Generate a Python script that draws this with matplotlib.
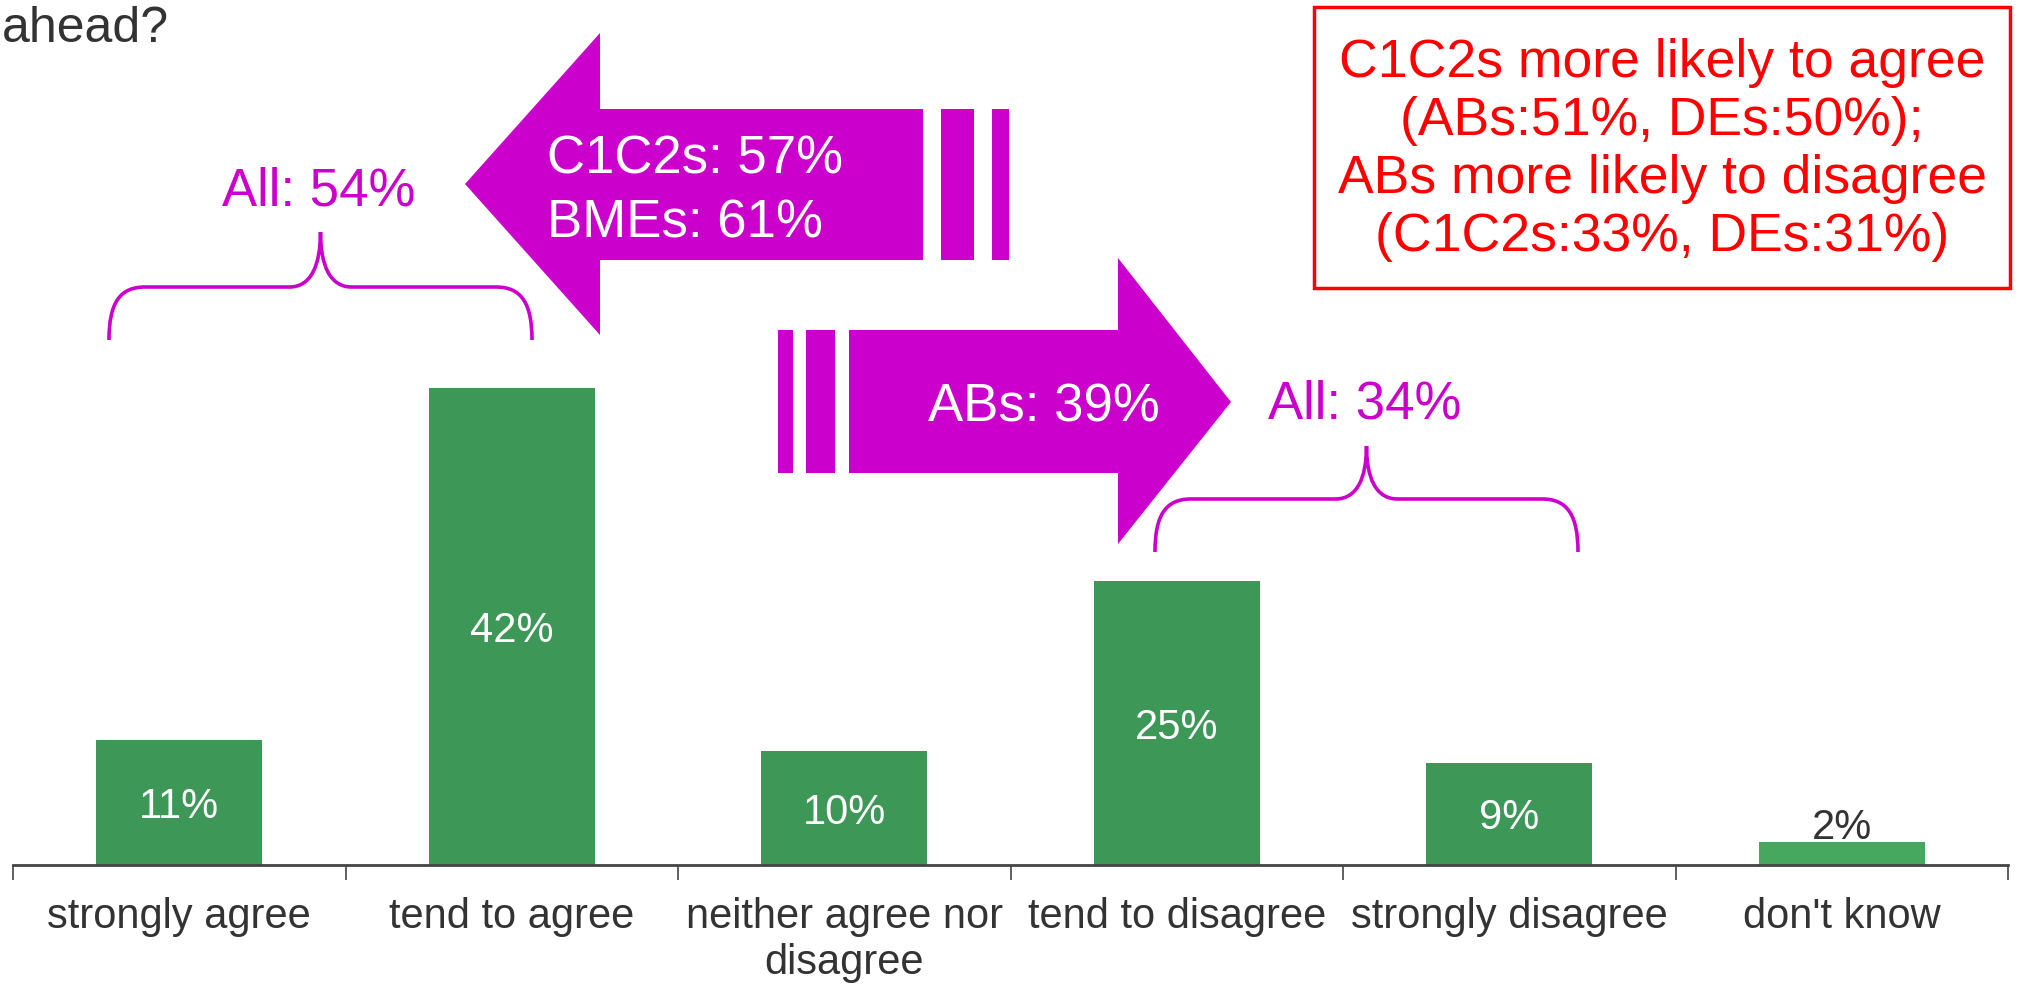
import matplotlib.pyplot as plt
from matplotlib.patches import Polygon, Rectangle, PathPatch
from matplotlib.path import Path

plt.rcParams['font.family'] = ['Liberation Sans', 'DejaVu Sans']

# data
categories = ['strongly agree', 'tend to agree', 'neither agree nor\ndisagree',
              'tend to disagree', 'strongly disagree', "don't know"]
values = [11, 42, 10, 25, 9, 2]
bar_colors = ['#3d9857'] * 5 + ['#45a85e']
label_colors = ['white'] * 5 + ['#333333']

W, H = 2018, 986
MAG = '#cc00cc'
RED = '#ff0000'
GREY = '#333333'


def px(x, y):
    # pixel (from top-left) -> figure fraction
    return (x / W, 1 - y / H)


fig = plt.figure(figsize=(W / 100, H / 100), dpi=100)
ax = fig.add_axes([13 / W, (H - 865) / H, 1995 / W, 865 / H])
ax.patch.set_alpha(0)

x = range(len(categories))
ax.bar(x, values, width=0.5, color=bar_colors)
ax.set_xlim(-0.5, 5.5)
ax.set_ylim(0, 76.2)

for i, v in enumerate(values):
    if v >= 5:
        ax.text(i, v / 2, f'{v}%', ha='center', va='center_baseline', color=label_colors[i], fontsize=30)
    else:
        ax.text(i, v + 0.25, f'{v}%', ha='center', va='baseline', color=label_colors[i], fontsize=30)

for s in ['top', 'right', 'left']:
    ax.spines[s].set_visible(False)
ax.spines['bottom'].set_color('#444444')
ax.spines['bottom'].set_linewidth(2)
ax.set_yticks([])
ax.set_xticks([i - 0.5 for i in range(len(categories) + 1)])
ax.set_xticklabels([])
ax.tick_params(axis='x', which='major', length=11, width=1.2, color='#444444')
ax.set_xticks(list(x), minor=True)
ax.set_xticklabels(categories, minor=True, fontsize=30, color=GREY)
ax.tick_params(axis='x', which='minor', length=0, pad=23)

# title fragment
fig.text(*px(2, 42), 'ahead?', ha='left', va='baseline', fontsize=36, color=GREY)

# left arrow
left_arrow = [(923, 109), (600, 109), (600, 33), (465, 184), (600, 335), (600, 260), (923, 260)]
fig.add_artist(Polygon([px(a, b) for a, b in left_arrow], closed=True, color=MAG,
                       transform=fig.transFigure, lw=0))
for x0, x1 in [(941, 974), (992, 1009)]:
    fig.add_artist(Rectangle(px(x0, 260), (x1 - x0) / W, (260 - 109) / H, color=MAG,
                             transform=fig.transFigure, lw=0))
fig.text(*px(547, 173), 'C1C2s: 57%', ha='left', va='baseline', fontsize=38, color='white')
fig.text(*px(547, 237), 'BMEs: 61%', ha='left', va='baseline', fontsize=38, color='white')

# right arrow
right_arrow = [(849, 330), (1118, 330), (1118, 258), (1231, 402), (1118, 544), (1118, 473), (849, 473)]
fig.add_artist(Polygon([px(a, b) for a, b in right_arrow], closed=True, color=MAG,
                       transform=fig.transFigure, lw=0))
for x0, x1 in [(778, 793), (806, 835)]:
    fig.add_artist(Rectangle(px(x0, 473), (x1 - x0) / W, (473 - 330) / H, color=MAG,
                             transform=fig.transFigure, lw=0))
fig.text(*px(928, 422), 'ABs: 39%', ha='left', va='baseline', fontsize=38, color='white')


def brace(x0, x1, yb, yf, yp):
    xm = (x0 + x1) / 2
    r = 36
    r2 = 31
    h = yb - yf
    h2 = yf - yp
    verts = [(x0, yb),
             (x0, yf + 0.3 * h), (x0 + 0.3 * r, yf), (x0 + r, yf),
             (xm - r2, yf),
             (xm - 0.3 * r2, yf), (xm, yf - 0.4 * h2), (xm, yp),
             (xm, yf - 0.4 * h2), (xm + 0.3 * r2, yf), (xm + r2, yf),
             (x1 - r, yf),
             (x1 - 0.3 * r, yf), (x1, yf + 0.3 * h), (x1, yb)]
    codes = [Path.MOVETO, Path.CURVE4, Path.CURVE4, Path.CURVE4, Path.LINETO,
             Path.CURVE4, Path.CURVE4, Path.CURVE4, Path.CURVE4, Path.CURVE4, Path.CURVE4,
             Path.LINETO, Path.CURVE4, Path.CURVE4, Path.CURVE4]
    path = Path([px(a, b) for a, b in verts], codes)
    fig.add_artist(PathPatch(path, fill=False, edgecolor=MAG, lw=2.6, transform=fig.transFigure))


brace(109, 532, 340, 287, 232)
fig.text(*px(319, 205), 'All: 54%', ha='center', va='baseline', fontsize=38, color=MAG)
brace(1155, 1578, 552, 499, 446)
fig.text(*px(1365, 418), 'All: 34%', ha='center', va='baseline', fontsize=38, color=MAG)

# red note box
fig.add_artist(Rectangle(px(1314, 288), (2010 - 1314) / W, (288 - 7) / H, fill=False,
                         edgecolor=RED, lw=2.5, transform=fig.transFigure))
fig.text(*px(1662, 150),
         'C1C2s more likely to agree\n(ABs:51%, DEs:50%);\nABs more likely to disagree\n(C1C2s:33%, DEs:31%)',
         ha='center', va='center', fontsize=38.5, color=RED, linespacing=1.2)

plt.savefig('out.png', dpi=100)
